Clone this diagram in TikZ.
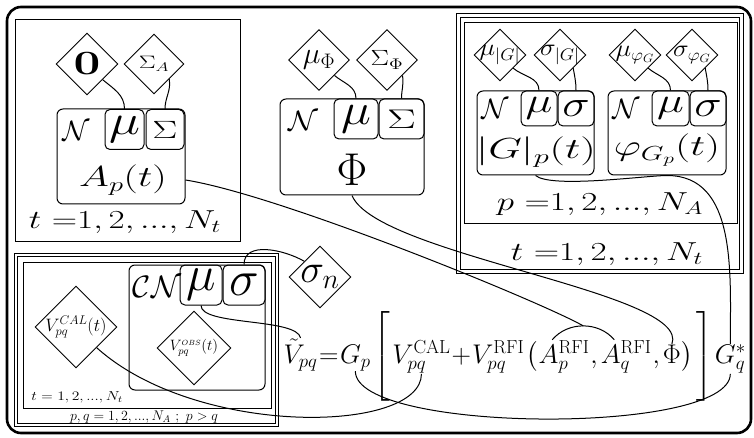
\RequirePackage{fix-cm}
\documentclass[tikz,border=0pt]{standalone}
\usepackage{amsmath,graphicx}
\usetikzlibrary{positioning,shapes.geometric}

\begin{document}
\begin{tikzpicture}[x=1pt, y=-1pt, line width=1pt,
    frame/.style={line width=2.6pt, rounded corners=14},
    plate/.style={line width=0.9pt},
    plate2/.style={line width=0.9pt, double, double distance=2.4pt},
    dist/.style={draw, rounded corners=6, inner sep=0pt},
    sub/.style={draw, rounded corners=5, inner sep=0pt, minimum width=#1, minimum height=40},
    param/.style={draw, diamond, line width=0.9pt, inner sep=-2pt, minimum size=#1},
    lbl/.style={inner sep=0pt},
    eq/.style={inner sep=0pt, font=\fontsize{27}{32}\selectfont},
    nxt/.style={eq, anchor=base west},
    link/.style={line width=1pt}]
\useasboundingbox (0,0) rectangle (754,438);
\draw[frame] (7,7) rectangle (751,433);

% amplitude plate
\draw[plate] (15,19) rectangle (240,241);
\node[lbl, font=\fontsize{26}{30}\selectfont] (tA) at (125,222) {\scalebox{1.35}[1]{$t\ {=}1, 2, ..., N_t$}};
\node[param=62, font=\fontsize{34}{38}\selectfont] (zeroD) at (87,64) {\scalebox{1.4}[1]{$\mathbf{0}$}};
\node[param=60, font=\fontsize{18}{22}\selectfont] (sigAD) at (154,64) {\scalebox{1.4}[1]{$\Sigma_A$}};
\node[dist, minimum width=128, minimum height=95] (Abox) at (121,156.5) {};
\node[sub=39, font=\fontsize{42}{46}\selectfont] (Amu) at (124.5,129.5) {\scalebox{1.25}[1]{$\mu$}};
\node[sub=38, font=\fontsize{25}{30}\selectfont] (Asig) at (165,129.5) {\scalebox{1.5}[1]{$\Sigma$}};
\node[lbl, font=\fontsize{28}{32}\selectfont] (AN) at (76,131) {$\mathcal{N}$};
\node[lbl, font=\fontsize{29}{34}\selectfont] (Atxt) at (123,180) {\scalebox{1.4}[1]{$A_p(t)$}};
\draw[link] (zeroD.south east) to[out=-40, in=90] (Amu.north);
\draw[link] (sigAD.south east) to[out=-80, in=90] (Asig.north);

% phase node
\node[param=61, font=\fontsize{30}{34}\selectfont] (muPD) at (319,60) {$\mu_\Phi$};
\node[param=61, font=\fontsize{22}{26}\selectfont] (sigPD) at (387,60) {\scalebox{1.25}[1]{$\Sigma_\Phi$}};
\node[dist, minimum width=144, minimum height=96] (Pbox) at (352,147) {};
\node[sub=44, font=\fontsize{44}{48}\selectfont] (Pmu) at (356,119) {\scalebox{1.15}[1]{$\mu$}};
\node[sub=45, font=\fontsize{27}{32}\selectfont] (Psig) at (401.5,119) {\scalebox{1.6}[1]{$\Sigma$}};
\node[lbl, font=\fontsize{28}{32}\selectfont] (PN) at (303,121) {\scalebox{1.1}[1]{$\mathcal{N}$}};
\node[lbl, font=\fontsize{46}{50}\selectfont] (Ptxt) at (352,170) {$\Phi$};
\draw[link] (muPD.south east) to[out=-40, in=90] (Pmu.north);
\draw[link] (sigPD.south east) to[out=-80, in=90] (Psig.north);

% gain plates
\draw[plate2] (458.5,15.5) rectangle (741.5,271.5);
\draw[plate] (464,22) rectangle (737,223);
\node[lbl, font=\fontsize{26}{30}\selectfont] (pG) at (600,204) {\scalebox{1.35}[1]{$p\ {=}1, 2, ..., N_A$}};
\node[lbl, font=\fontsize{26}{30}\selectfont] (tG) at (607,254) {\scalebox{1.35}[1]{$t\ {=}1, 2, ..., N_t$}};
\node[param=52, font=\fontsize{24}{28}\selectfont] (muGD) at (500,55) {\scalebox{1.1}[1]{$\mu_{|G|}$}};
\node[param=52, font=\fontsize{24}{28}\selectfont] (sigGD) at (560,55) {\scalebox{1.1}[1]{$\sigma_{|G|}$}};
\node[param=52, font=\fontsize{24}{28}\selectfont] (muFD) at (635,55) {\scalebox{1.1}[1]{$\mu_{\varphi_G}$}};
\node[param=52, font=\fontsize{24}{28}\selectfont] (sigFD) at (692,55) {\scalebox{1.1}[1]{$\sigma_{\varphi_G}$}};
\node[dist, minimum width=117, minimum height=84] (Gbox) at (535.5,133) {};
\node[sub=36, minimum height=35, font=\fontsize{35}{40}\selectfont] (Gmu) at (539,108.5) {\scalebox{1.3}[1]{$\mu$}};
\node[sub=36, minimum height=35, font=\fontsize{37}{42}\selectfont] (Gsig) at (576,108.5) {\scalebox{1.25}[1]{$\sigma$}};
\node[lbl, font=\fontsize{28}{32}\selectfont] (GN) at (495,109) {$\mathcal{N}$};
\node[lbl, font=\fontsize{29}{34}\selectfont] (Gtxt) at (536,152) {\scalebox{1.5}[1]{$|G|_p(t)$}};
\node[dist, minimum width=118, minimum height=84] (Fbox) at (667,133) {};
\node[sub=37, minimum height=35, font=\fontsize{35}{40}\selectfont] (Fmu) at (670.5,108.5) {\scalebox{1.3}[1]{$\mu$}};
\node[sub=36, minimum height=35, font=\fontsize{37}{42}\selectfont] (Fsig) at (708,108.5) {\scalebox{1.25}[1]{$\sigma$}};
\node[lbl, font=\fontsize{28}{32}\selectfont] (FN) at (626,109) {$\mathcal{N}$};
\node[lbl, font=\fontsize{29}{34}\selectfont] (Ftxt) at (667,150) {\scalebox{1.45}[1]{$\varphi_{G_p}(t)$}};
\draw[link] (muGD.south east) to[out=-40, in=90] (Gmu.north);
\draw[link] (sigGD.south east) to[out=-80, in=90] (Gsig.north);
\draw[link] (muFD.south east) to[out=-40, in=90] (Fmu.north);
\draw[link] (sigFD.south east) to[out=-80, in=90] (Fsig.north);

% visibility plates
\draw[plate2] (16,255) rectangle (277,425);
\draw[plate] (23,262) rectangle (271,408);
\node[lbl, font=\fontsize{13}{16}\selectfont] (tV) at (77,397) {\scalebox{1.2}[1]{$t = 1, 2, ..., N_t$}};
\node[lbl, font=\fontsize{14}{17}\selectfont] (pqV) at (144,417) {$p, q = 1, 2, ..., N_A\ ;\ p > q$};
\node[param=82, font=\fontsize{18}{22}\selectfont] (VcalD) at (76,327) {$V_{pq}^{CAL}(t)$};
\node[dist, minimum width=136, minimum height=125] (CNbox) at (197,327.5) {};
\node[sub=42, font=\fontsize{50}{54}\selectfont] (CNmu) at (201,285) {$\mu$};
\node[sub=42, font=\fontsize{50}{54}\selectfont] (CNsig) at (244,285) {$\sigma$};
\node[lbl, font=\fontsize{31}{36}\selectfont] (CN) at (157,287) {$\mathcal{CN}$};
\node[param=74, font=\fontsize{15}{18}\selectfont] (VobsD) at (194,348) {$V_{pq}^{\scriptscriptstyle OBS}(t)$};
\node[param=62, font=\fontsize{40}{44}\selectfont] (sigND) at (320,277) {$\sigma_n$};
\draw[link] (CNsig.north) to[out=90, in=150] (sigND.north west);

% measurement equation
\node[eq, anchor=base west] (Vt) at (283,363) {$\tilde V_{pq}$};
\node[right=0.5pt of Vt.base east, nxt] (eqs) {$=$};
\node[right=0.5pt of eqs.base east, nxt] (Gp) {$G_p$};
\node[right=2pt of Gp.base east, nxt] (lb) {$\Bigg[$};
\node[right=1pt of lb.base east, nxt] (Vcal) {$V_{pq}^{\mathrm{CAL}}$};
\node[right=0pt of Vcal.base east, nxt] (plus) {$+$};
\node[right=0pt of plus.base east, nxt] (Vrfi) {$V_{pq}^{\mathrm{RFI}}$};
\node[right=1pt of Vrfi.base east, nxt] (lp) {$\big($};
\node[right=0pt of lp.base east, nxt] (ApR) {$A_p^{\mathrm{RFI}}$};
\node[right=0pt of ApR.base east, nxt] (cm1) {$,$};
\node[right=2pt of cm1.base east, nxt] (AqR) {$A_q^{\mathrm{RFI}}$};
\node[right=0pt of AqR.base east, nxt] (cm2) {$,$};
\node[right=2pt of cm2.base east, nxt] (PhiE) {$\Phi$};
\node[right=0pt of PhiE.base east, nxt] (rp) {$\big)$};
\node[right=2pt of rp.base east, nxt] (rb) {$\Bigg]$};
\node[right=1pt of rb.base east, nxt] (Gq) {$G_q^*$};

% links into the equation
\draw[link] (CNmu.south) to[out=-90, in=100, looseness=0.5] (Vt.north);
\draw[link] (VcalD.south east) .. controls +(100,90) and +(0,60) .. (Vcal.south);
\draw[link] (Gp.south) .. controls +(0,62) and +(0,62) .. (Gq.south);
\draw[link] ([xshift=14pt]ApR.north west) to[out=50, in=130] coordinate[pos=0.5] (Ajoin) ([xshift=14pt]AqR.north west);
\draw[link] (Abox.east |- Atxt.east) .. controls +(95,15) and +(-40,-23) .. (Ajoin);
\draw[link] (Pbox.south) .. controls +(25,60) and +(20,-52) .. (PhiE.north);
\draw[link] (Gbox.south) to[out=-40, in=180, looseness=0.4] (Fbox.south) to[out=0, in=90] (Gq.north);
\end{tikzpicture}
\end{document}
